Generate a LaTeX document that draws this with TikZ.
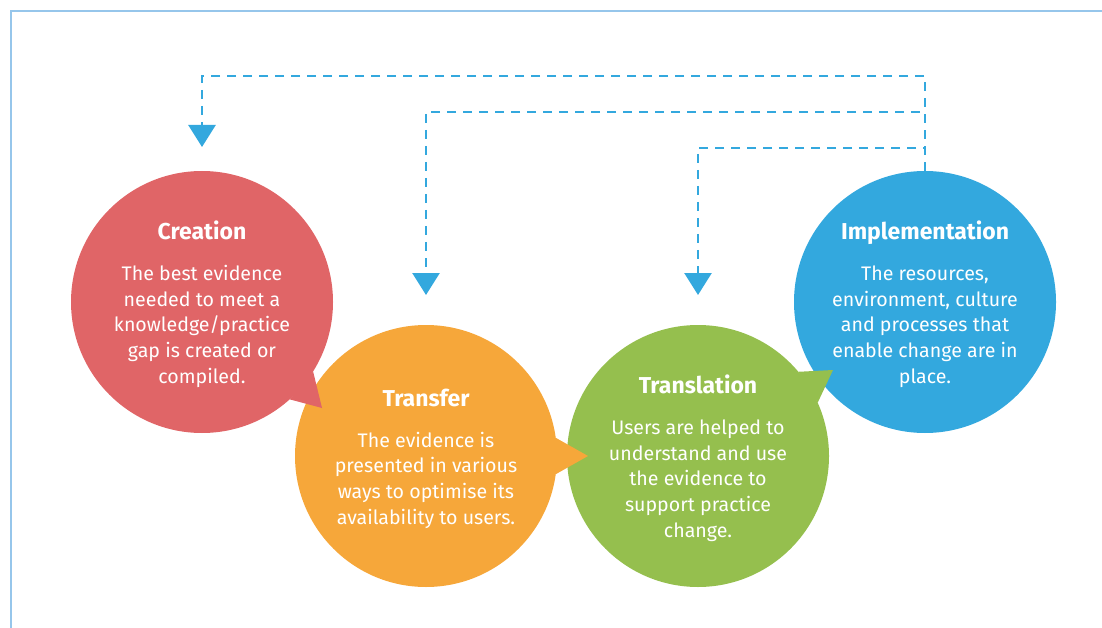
\documentclass[tikz,border=0pt]{standalone}
\usepackage{fontspec}
\setmainfont{Fira Sans}
\usetikzlibrary{arrows.meta}

\definecolor{creationred}{RGB}{224,101,103}
\definecolor{transferorange}{RGB}{246,167,58}
\definecolor{translationgreen}{RGB}{149,191,78}
\definecolor{implblue}{RGB}{51,168,222}
\definecolor{frameblue}{RGB}{150,198,235}

\newcommand{\stagetitle}[1]{{\fontsize{23}{25.7}\selectfont\bfseries\rule{0pt}{23pt}#1}}

\begin{document}
\begin{tikzpicture}[x=1pt,y=-1pt,
    bubble/.style={circle,minimum size=262pt,inner sep=0pt,outer sep=0pt,text=white,align=center,font=\fontsize{19.6}{25.7}\selectfont},
    flow/.style={draw=implblue,line width=2.6pt,dash pattern=on 9pt off 7pt,-{Triangle[width=27pt,length=22pt]}}]
    \useasboundingbox (0,0) rectangle (1102,628);
    \draw[frameblue,line width=1.2pt] (11,628) -- (11,11) -- (1102,11);

    % the four stages
    \node[bubble,fill=creationred] (creation) at (202,302) {\stagetitle{Creation}\\[15pt]
        The best evidence\\ needed to meet a\\ knowledge/practice\\ gap is created or\\ compiled.};
    \node[bubble,fill=transferorange] (transfer) at (426,456) {\stagetitle{Transfer}\\[15pt]
        The evidence is\\ presented in various\\ ways to optimise its\\ availability to users.};
    \node[bubble,fill=translationgreen] (translation) at (698,456) {\stagetitle{Translation}\\[15pt]
        Users are helped to\\ understand and use\\ the evidence to\\ support practice\\ change.};
    \node[bubble,fill=implblue] (impl) at (925,302) {\stagetitle{Implementation}\\[15pt]
        The resources,\\ environment, culture\\ and processes that\\ enable change are in\\ place.};

    % speech bubble tails
    \fill[creationred] (creation.-32) -- (322,408) -- (creation.-48) -- cycle;
    \fill[transferorange] (transfer.8) -- (588,456) -- (transfer.-8) -- cycle;
    \fill[translationgreen] (translation.40) -- (833,370) -- (translation.24) -- cycle;

    % feedback loops
    \draw[flow] (impl.north) -- ++(0,-95) -| ([yshift=24pt]creation.north);
    \draw[flow] (impl.north) -- ++(0,-59) -| ([yshift=30pt]transfer.north);
    \draw[flow] (impl.north) -- ++(0,-23) -| ([yshift=30pt]translation.north);
\end{tikzpicture}
\end{document}
